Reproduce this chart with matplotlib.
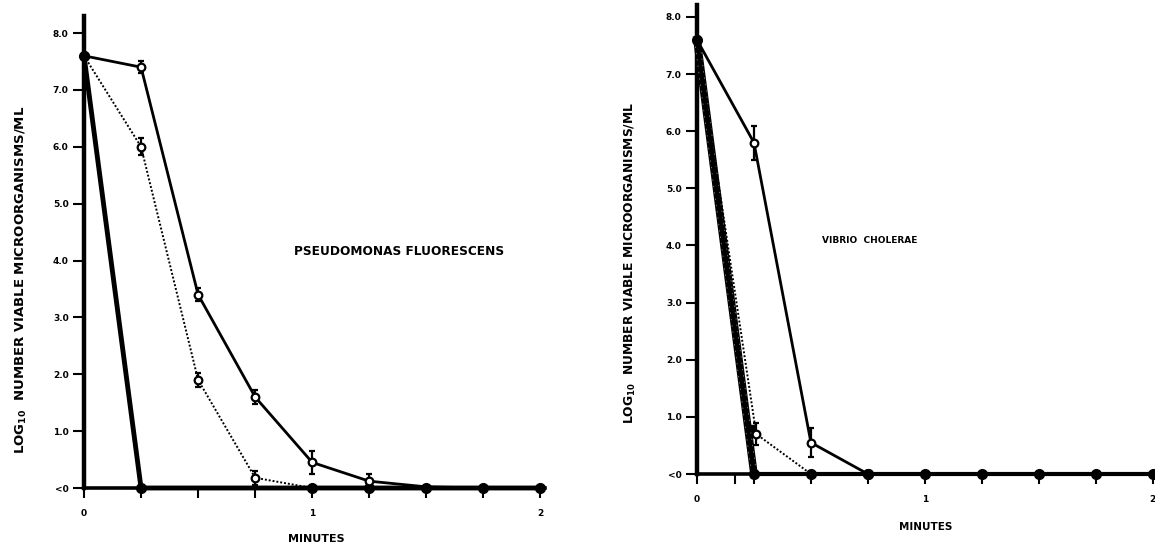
import matplotlib.pyplot as plt

# ---- left panel: Pseudomonas fluorescens ----
left_x = [0, 0.25, 0.5, 0.75, 1.0, 1.25, 1.5, 1.75, 2.0]
left_solid = [7.6, 7.4, 3.4, 1.6, 0.45, 0.12, 0.02, 0.0, 0.0]
left_solid_err = [0, 0.1, 0.12, 0.12, 0.2, 0.12, 0, 0, 0]
left_dot_x = [0, 0.25, 0.5, 0.75, 1.0]
left_dot = [7.6, 6.0, 1.9, 0.18, 0.0]
left_dot_err = [0, 0.15, 0.12, 0.12, 0]
left_heavy_x = [0, 0.25, 1.0, 1.25, 1.5, 1.75, 2.0]
left_heavy = [7.6, 0.0, 0.0, 0.0, 0.0, 0.0, 0.0]

# ---- right panel: Vibrio cholerae ----
right_solid_x = [0, 0.25, 0.5, 0.75]
right_solid = [7.6, 5.8, 0.55, 0.0]
right_solid_err = [0, 0.3, 0.25, 0]
right_dot_x = [0, 0.26, 0.5]
right_dot = [7.6, 0.7, 0.0]
right_dot_err = [0, 0.2, 0]
right_heavy_x = [0, 0.25, 0.5, 0.75, 1.0, 1.25, 1.5, 1.75, 2.0]
right_heavy = [7.6, 0.0, 0.0, 0.0, 0.0, 0.0, 0.0, 0.0, 0.0]

yticks = [0, 1, 2, 3, 4, 5, 6, 7, 8]
ytick_labels = ['<0', '1.0', '2.0', '3.0', '4.0', '5.0', '6.0', '7.0', '8.0']
ylab = 'LOG$_{\\mathbf{10}}$  NUMBER VIABLE MICROORGANISMS/ML'

plt.rcParams['font.family'] = 'DejaVu Sans'
plt.rcParams['font.weight'] = 'bold'
plt.rcParams['mathtext.default'] = 'bf'

fig = plt.figure(figsize=(11.55, 5.49), dpi=100)
ax1 = fig.add_axes([84/1155, 61/549, 461/1155, 472/549])
ax2 = fig.add_axes([697/1155, 75/549, 458/1155, 469/549])

dots = (0, (1, 1))


def style(ax, xticks, ytop, xmax):
  ax.set_xlim(0, xmax)
  ax.set_ylim(0, ytop)
  for s in ['top', 'right']:
    ax.spines[s].set_visible(False)
  ax.spines['left'].set_linewidth(3.2)
  ax.spines['bottom'].set_linewidth(2.6)
  ax.set_yticks(yticks)
  ax.set_yticklabels(ytick_labels, fontsize=6.5, fontweight='bold')
  ax.set_xticks(xticks)
  ax.set_xticklabels(['0' if t == 0 else '1' if t == 1 else '2' if t == 2 else '' for t in xticks],
                     fontsize=6.5, fontweight='bold')
  ax.tick_params(axis='y', length=8, width=1.5, pad=3)
  ax.tick_params(axis='x', length=7, width=1.5, pad=8)


style(ax1, [0, 0.25, 0.5, 0.75, 1, 1.25, 1.5, 1.75, 2], 8.3, 2.02)
style(ax2, [0, 0.167, 0.25, 0.5, 0.75, 1, 1.25, 1.5, 1.75, 2], 8.21, 2.01)

# left curves
ax1.plot(left_heavy_x, left_heavy, color='black', lw=3.5, marker='o', ms=7,
         clip_on=False, zorder=4)
ax1.errorbar(left_dot_x, left_dot, yerr=left_dot_err, color='black', ls=dots,
             lw=1.4, marker='o', ms=5.5, mfc='white', mec='black', mew=1.6,
             capsize=2.5, elinewidth=1.6, clip_on=False, zorder=5, markevery=[1, 2, 3])
ax1.errorbar(left_x, left_solid, yerr=left_solid_err, color='black', lw=2,
             marker='o', ms=5.5, mfc='white', mec='black', mew=1.6,
             capsize=2.5, elinewidth=1.6, clip_on=False, zorder=5, markevery=[1, 2, 3, 4, 5])
ax1.plot([0], [7.6], 'o', color='black', ms=7, zorder=6)
ax1.text(0.92, 4.09, 'PSEUDOMONAS FLUORESCENS', fontsize=8.7, fontweight='bold')
ax1.set_xlabel('MINUTES', fontsize=8, fontweight='bold', va='center')
ax1.xaxis.set_label_coords(1.02 / 2.02, -0.108)
ax1.set_ylabel(ylab, fontsize=9.5, fontweight='bold', va='center')
ax1.yaxis.set_label_coords(-0.135, 0.44)

# right curves
ax2.plot(right_heavy_x[:2], right_heavy[:2], color='black', lw=5.5,
         clip_on=False, zorder=4)
ax2.plot(right_heavy_x[:2], right_heavy[:2], color='white', lw=4,
         ls=(0, (0.25, 0.9)), clip_on=False, zorder=4, alpha=0.6)
ax2.plot(right_heavy_x, right_heavy, color='black', lw=3, marker='o', ms=7,
         markevery=[1, 2, 3, 4, 5, 6, 7, 8], clip_on=False, zorder=4)
ax2.plot([0.235], [0.8], 's', color='black', ms=5, zorder=4)
ax2.errorbar(right_dot_x, right_dot, yerr=right_dot_err, color='black', ls=dots,
             lw=1.4, marker='o', ms=5.5, mfc='white', mec='black', mew=1.6,
             capsize=2.5, elinewidth=1.6, clip_on=False, zorder=5, markevery=[1])
ax2.errorbar(right_solid_x, right_solid, yerr=right_solid_err, color='black', lw=2,
             marker='o', ms=5.5, mfc='white', mec='black', mew=1.6,
             capsize=2.5, elinewidth=1.6, clip_on=False, zorder=5, markevery=[1, 2])
ax2.plot([0, 0.75], [7.6, 0.0], 'o', color='black', ms=7, zorder=6, clip_on=False)
ax2.text(0.55, 4.05, 'VIBRIO  CHOLERAE', fontsize=6.5, fontweight='bold')
ax2.set_xlabel('MINUTES', fontsize=7.5, fontweight='bold', va='center')
ax2.xaxis.set_label_coords(1.005 / 2.01, -0.113)
ax2.set_ylabel(ylab, fontsize=8.8, fontweight='bold', va='center')
ax2.yaxis.set_label_coords(-0.146, 0.45)

plt.savefig('out.png', dpi=100)
